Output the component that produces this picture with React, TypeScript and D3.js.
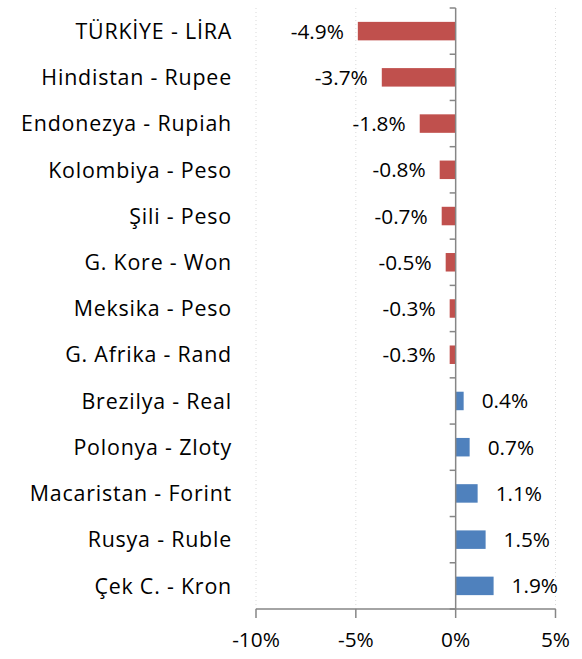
import React from "react";
import * as d3 from "d3";

const categories = [
  "TÜRKİYE - LİRA",
  "Hindistan - Rupee",
  "Endonezya - Rupiah",
  "Kolombiya - Peso",
  "Şili - Peso",
  "G. Kore - Won",
  "Meksika - Peso",
  "G. Afrika - Rand",
  "Brezilya - Real",
  "Polonya - Zloty",
  "Macaristan - Forint",
  "Rusya - Ruble",
  "Çek C. - Kron",
];
const values = [-4.9, -3.7, -1.8, -0.8, -0.7, -0.5, -0.3, -0.3, 0.4, 0.7, 1.1, 1.5, 1.9];
const xTicks = [-10, -5, 0, 5];

const W = 582;
const H = 659;
const FONT = "'Open Sans', sans-serif";
const FS = 20.8;
const FS_CAT = 21.4;

export default function App() {
  const x = d3.scaleLinear().domain([-10, 5]).range([256, 555.5]);
  const top = 8;
  const bottom = 609;
  const y = d3
    .scaleBand<string>()
    .domain(categories)
    .range([top, bottom])
    .paddingInner(0.6)
    .paddingOuter(0.3);
  const step = y.step();
  const boundaries = categories.map((c) => (y(c) as number) - step * 0.3);
  boundaries.push(bottom);
  const x0 = x(0);
  const fmt = (v: number) => `${v.toFixed(1)}%`;

  return (
    <svg
      width={W}
      height={H}
      style={{ position: "absolute", left: 0, top: 0, background: "#fff" }}
      fontFamily={FONT}
    >
      {xTicks
        .filter((t) => t !== 0)
        .map((t) => (
          <line
            key={"g" + t}
            x1={x(t)}
            x2={x(t)}
            y1={top}
            y2={bottom}
            stroke="#d9d9d9"
            strokeWidth={1}
            strokeDasharray="1,3"
          />
        ))}
      {categories.map((c, i) => {
        const v = values[i];
        const yc = (y(c) as number) + y.bandwidth() / 2;
        return (
          <g key={c}>
            <rect
              x={Math.min(x(v), x0)}
              y={y(c)}
              width={Math.abs(x(v) - x0)}
              height={y.bandwidth()}
              fill={v < 0 ? "#C0504D" : "#4F81BD"}
            />
            <text
              x={v < 0 ? x(v) - 14 : x(v) + 18}
              y={yc}
              dy="0.36em"
              textAnchor={v < 0 ? "end" : "start"}
              fontSize={FS}
              fill="#000"
            >
              {fmt(v)}
            </text>
            <text
              x={232}
              y={yc}
              dy="0.36em"
              textAnchor="end"
              fontSize={FS_CAT}
              letterSpacing={0.8}
              fill="#000"
            >
              {c}
            </text>
          </g>
        );
      })}
      {/* y axis */}
      <line x1={x0} x2={x0} y1={top} y2={bottom} stroke="#868686" strokeWidth={1.5} />
      {boundaries.map((b, i) => (
        <line key={"yt" + i} x1={x0 - 6} x2={x0} y1={b} y2={b} stroke="#868686" strokeWidth={1.5} />
      ))}
      {/* x axis */}
      <line x1={x(-10)} x2={x(5)} y1={bottom} y2={bottom} stroke="#868686" strokeWidth={1.5} />
      {xTicks.map((t) => (
        <g key={"xt" + t}>
          <line x1={x(t)} x2={x(t)} y1={bottom} y2={bottom + 9} stroke="#868686" strokeWidth={1.5} />
          <text x={x(t)} y={640} dy="0.36em" textAnchor="middle" fontSize={FS} fill="#000">
            {`${t}%`}
          </text>
        </g>
      ))}
    </svg>
  );
}
